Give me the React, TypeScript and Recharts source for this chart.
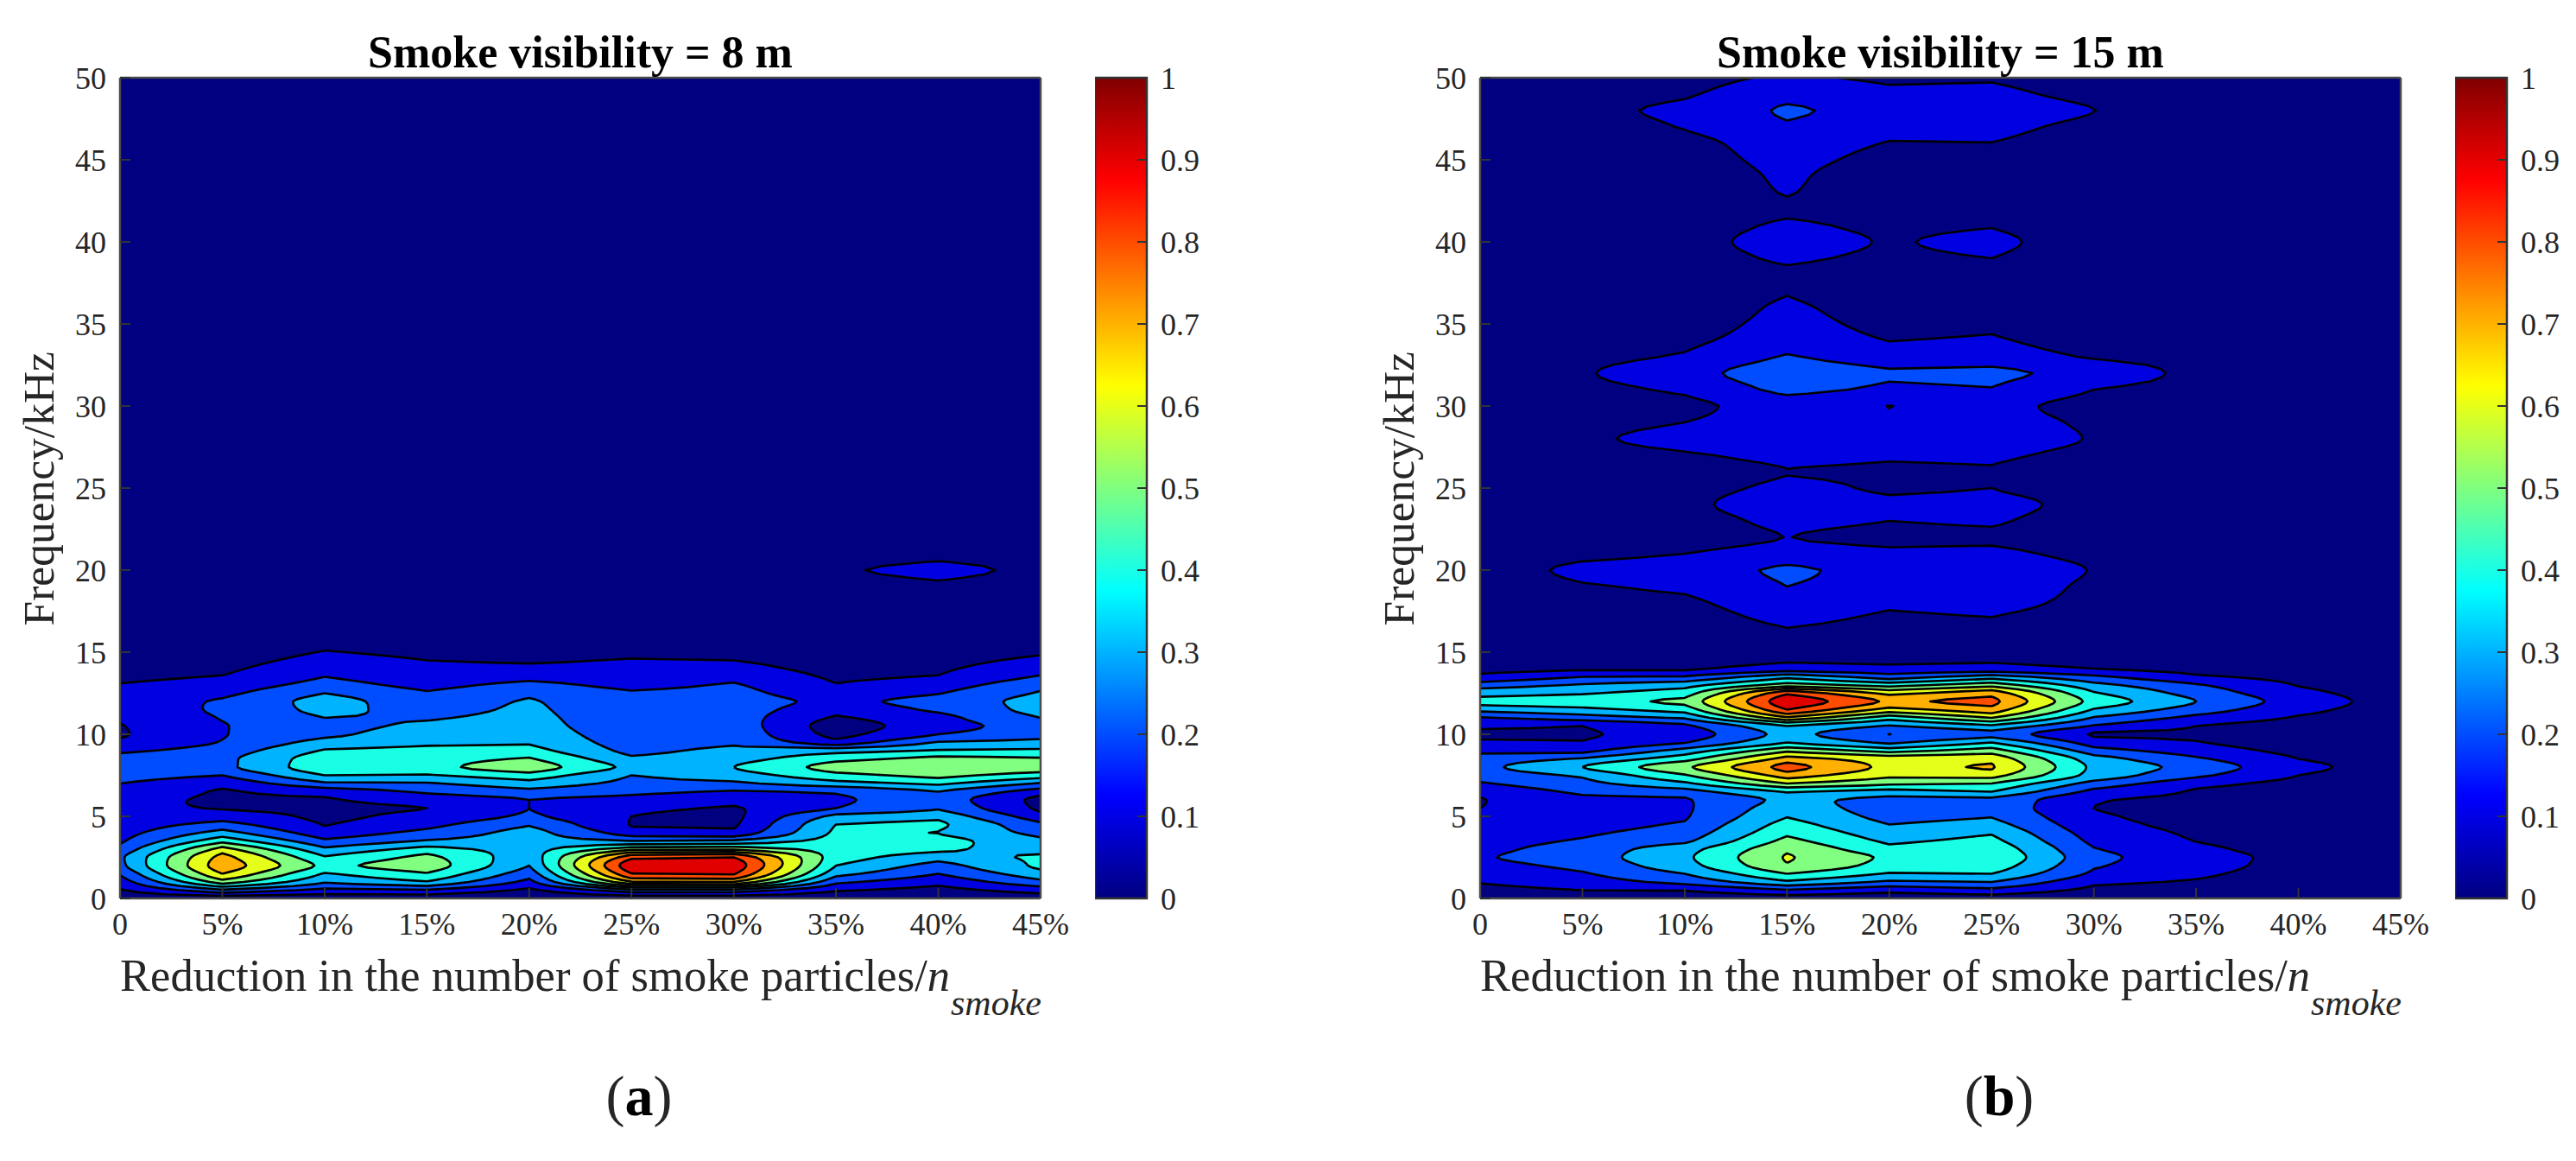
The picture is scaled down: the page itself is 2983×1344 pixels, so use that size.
/**
 * Filled contour maps of normalised power against smoke particle reduction and frequency.
 */

import { Bar, BarChart, Scatter, ScatterChart, XAxis, YAxis } from 'recharts';

const FONT = '"Liberation Serif", serif';
const TEXT = '#262626';
const FRAME = '#4a4a4a';

const reductions = [0, 5, 10, 15, 20, 25, 30, 35, 40, 45];
const xTicks = [0, 5, 10, 15, 20, 25, 30, 35, 40, 45];
const yTicks = [0, 5, 10, 15, 20, 25, 30, 35, 40, 45, 50];
const colorTicks = [0, 0.1, 0.2, 0.3, 0.4, 0.5, 0.6, 0.7, 0.8, 0.9, 1];
const levels = [0, 0.1, 0.2, 0.3, 0.4, 0.5, 0.6, 0.7, 0.8, 0.9];
const bandColors = ['#000080', '#0000e0', '#004dff', '#00b3ff', '#19ffe6', '#80ff80', '#e6ff1a', '#ffb000', '#ff4d00', '#e00000'];

const freqLow = [0, 0.5, 1, 1.5, 2, 2.5, 3, 3.5, 4, 4.5, 5, 5.5, 6, 6.5, 7, 7.5, 8, 8.5, 9, 9.5, 10, 10.5, 11, 11.5, 12, 12.5, 13, 13.5, 14, 14.5, 15];
const freqHighA = [16, 18, 19, 20, 21, 22, 30, 50];
const freqHighB = [16, 17, 18, 19, 20, 21, 22, 23, 24, 25, 26, 27, 28, 29, 30, 31, 32, 33, 34, 35, 36, 37, 38, 39, 40, 41, 42, 43, 44, 45, 46, 47, 48, 49, 50];

// smoke visibility 8 m, one list per reduction column
const a0 = [.03, .09, .15, .21, .27, .28, .23, .185, .16, .14, .125, .12, .13, .16, .2, .24, .26, .24, .18, .12, .09, .095, .115, .135, .145, .13, .105, .08, .06, .05, .04, .03, .02, .02, .02, .02, .02, .02, .02];
const a5 = [.02, .28, .55, .7, .77, .74, .64, .47, .34, .24, .15, .095, .085, .09, .13, .2, .27, .27, .24, .205, .195, .195, .205, .215, .21, .175, .14, .105, .08, .06, .045, .03, .02, .02, .02, .02, .02, .02, .02];
const a10 = [.02, .17, .31, .39, .47, .41, .32, .22, .14, .095, .08, .08, .09, .14, .28, .4, .47, .46, .41, .34, .28, .27, .3, .33, .34, .3, .24, .2, .17, .135, .105, .06, .03, .02, .02, .02, .02, .02, .02];
const a15 = [.02, .19, .39, .49, .56, .53, .44, .31, .23, .17, .125, .1, .145, .215, .29, .39, .47, .46, .43, .38, .35, .32, .29, .26, .24, .21, .17, .145, .12, .1, .08, .05, .03, .02, .02, .02, .02, .02, .02];
const a20 = [.02, .08, .17, .24, .3, .33, .35, .35, .34, .29, .22, .2, .2, .27, .36, .46, .56, .51, .44, .39, .36, .34, .33, .32, .31, .28, .23, .17, .12, .09, .07, .04, .03, .02, .02, .02, .02, .02, .02];
const a25 = [.02, .27, .69, .895, .98, .87, .57, .3, .15, .095, .1, .12, .17, .22, .27, .3, .37, .32, .27, .25, .24, .235, .23, .225, .22, .21, .17, .15, .12, .105, .08, .05, .03, .02, .02, .02, .02, .02, .02];
const a30 = [.02, .27, .7, .91, .97, .9, .58, .32, .13, .085, .075, .09, .14, .19, .28, .35, .4, .36, .33, .285, .27, .26, .25, .245, .24, .23, .21, .17, .13, .1, .07, .05, .03, .03, .05, .03, .02, .02, .02];
const a35 = [.03, .11, .22, .33, .4, .44, .45, .44, .42, .4, .33, .2, .185, .21, .36, .47, .54, .47, .36, .14, .065, .045, .085, .14, .175, .14, .105, .085, .07, .06, .05, .04, .03, .05, .09, .05, .03, .02, .02];
const a40 = [.04, .07, .13, .2, .26, .34, .42, .44, .398, .42, .37, .29, .26, .3, .42, .53, .58, .53, .41, .31, .2, .16, .17, .215, .23, .195, .15, .105, .085, .07, .055, .04, .04, .08, .125, .07, .03, .02, .02];
const a45 = [.04, .14, .27, .36, .42, .42, .35, .32, .27, .22, .14, .08, .07, .15, .29, .45, .55, .51, .42, .33, .27, .25, .3, .335, .34, .31, .27, .21, .16, .12, .09, .05, .03, .05, .08, .05, .03, .02, .02];

// smoke visibility 15 m, low frequency part
const b0 = [.04, .07, .105, .13, .165, .19, .175, .16, .145, .13, .115, .1, .095, .13, .19, .24, .27, .24, .175, .115, .085, .115, .19, .33, .43, .36, .25, .125, .07, .05, .04];
const b5 = [.04, .1, .15, .19, .225, .25, .24, .21, .185, .165, .155, .155, .175, .22, .27, .315, .4, .31, .17, .105, .09, .1, .25, .37, .46, .39, .31, .2, .085, .05, .04];
const b10 = [.04, .105, .23, .3, .36, .38, .36, .28, .24, .21, .19, .185, .19, .26, .38, .49, .58, .46, .34, .195, .14, .18, .31, .44, .52, .45, .36, .21, .085, .06, .05];
const b15 = [.04, .19, .38, .5, .59, .61, .58, .53, .48, .44, .395, .36, .33, .41, .6, .75, .84, .74, .58, .4, .34, .4, .68, .9, .98, .88, .55, .37, .15, .09, .07];
const b20 = [.04, .13, .28, .39, .46, .48, .43, .38, .34, .3, .265, .25, .27, .36, .52, .62, .67, .65, .46, .28, .199, .29, .44, .66, .78, .67, .46, .25, .13, .08, .06];
const b25 = [.04, .17, .3, .4, .46, .49, .47, .43, .39, .34, .295, .27, .28, .4, .5, .64, .71, .67, .55, .4, .27, .38, .6, .76, .83, .76, .56, .35, .14, .09, .07];
const b30 = [.03, .075, .12, .18, .21, .225, .205, .175, .15, .125, .11, .1, .105, .17, .26, .36, .375, .34, .24, .15, .09, .19, .29, .39, .46, .41, .33, .22, .1, .07, .05];
const b35 = [.03, .05, .09, .115, .13, .135, .12, .098, .085, .075, .07, .07, .08, .09, .13, .22, .262, .215, .15, .105, .085, .1, .17, .25, .3, .26, .21, .115, .07, .05, .04];
const b40 = [.02, .03, .05, .06, .07, .072, .06, .05, .04, .04, .04, .04, .04, .05, .07, .1, .12, .1, .07, .05, .05, .06, .09, .125, .15, .125, .095, .07, .05, .04, .03];
const b45 = [.02, .02, .03, .03, .04, .04, .03, .03, .03, .03, .03, .03, .03, .03, .04, .05, .06, .05, .04, .03, .03, .03, .04, .05, .055, .05, .04, .03, .03, .02, .02];

// smoke visibility 15 m, 16 to 50 kHz
const bHigh0 = [.03, .03, .03, .03, .04, .03, .03, .03, .03, .03, .03, .03, .03, .03, .03, .03, .03, .03, .03, .03, .03, .03, .03, .03, .03, .03, .03, .03, .03, .03, .03, .03, .03, .03, .03];
const bHigh5 = [.03, .04, .06, .09, .128, .07, .05, .04, .04, .03, .03, .06, .085, .07, .05, .07, .09, .07, .05, .03, .03, .03, .03, .03, .04, .03, .03, .03, .03, .04, .04, .05, .075, .05, .04];
const bHigh10 = [.05, .06, .08, .12, .16, .1, .07, .07, .08, .07, .06, .09, .13, .1, .08, .115, .165, .11, .08, .06, .05, .05, .05, .06, .07, .06, .05, .05, .05, .06, .07, .105, .12, .09, .07];
const bHigh15 = [.085, .12, .16, .2, .215, .14, .101, .12, .15, .12, .098, .125, .15, .14, .14, .23, .26, .21, .15, .13, .115, .095, .085, .115, .135, .115, .085, .105, .115, .13, .15, .185, .215, .16, .115];
const bHigh20 = [.07, .085, .115, .16, .17, .12, .08, .1, .115, .09, .09, .11, .14, .115, .099, .18, .21, .14, .098, .075, .06, .05, .05, .08, .093, .08, .06, .05, .05, .07, .095, .13, .16, .12, .085];
const bHigh25 = [.07, .095, .135, .16, .17, .125, .085, .11, .125, .1, .095, .115, .14, .125, .125, .195, .22, .15, .11, .085, .06, .05, .05, .1, .12, .095, .06, .05, .05, .06, .098, .13, .16, .125, .09];
const bHigh30 = [.04, .05, .07, .08, .095, .07, .05, .06, .075, .06, .05, .075, .095, .09, .07, .1, .17, .09, .06, .05, .04, .04, .04, .04, .053, .04, .03, .03, .03, .04, .05, .07, .101, .07, .05];
const bHigh35 = [.03, .03, .03, .04, .05, .04, .03, .03, .04, .03, .03, .04, .05, .05, .04, .06, .07, .06, .04, .03, .03, .03, .03, .03, .03, .03, .03, .03, .03, .03, .03, .04, .06, .04, .03];
const bHigh40 = [.02, .02, .02, .02, .03, .03, .02, .02, .02, .02, .02, .02, .03, .03, .03, .03, .04, .03, .03, .02, .02, .02, .02, .02, .02, .02, .02, .02, .02, .02, .02, .02, .02, .02, .02];
const bHigh45 = [.02, .02, .02, .02, .02, .02, .02, .02, .02, .02, .02, .02, .02, .02, .02, .02, .02, .02, .02, .02, .02, .02, .02, .02, .02, .02, .02, .02, .02, .02, .02, .02, .02, .02, .02];

const tableA = [a0, a5, a10, a15, a20, a25, a30, a35, a40, a45];
const tableB = [
  [...b0, ...bHigh0], [...b5, ...bHigh5], [...b10, ...bHigh10], [...b15, ...bHigh15], [...b20, ...bHigh20],
  [...b25, ...bHigh25], [...b30, ...bHigh30], [...b35, ...bHigh35], [...b40, ...bHigh40], [...b45, ...bHigh45],
];
const freqA = [...freqLow, ...freqHighA];
const freqB = [...freqLow, ...freqHighB];

const colorbarData = [{ name: 'scale', value: 1 }];
const frameAnchor = [{ x: 0, y: 0 }];
const jetStops: [number, string][] = [[0, '#000080'], [0.125, '#0000ff'], [0.375, '#00ffff'], [0.625, '#ffff00'], [0.875, '#ff0000'], [1, '#800000']];

// pchip slopes so the curve between rows stays inside the read values
function pchipSlopes(xs: number[], ys: number[]) {
  const h = xs.slice(1).map((x, i) => x - xs[i]);
  const d = h.map((w, i) => (ys[i + 1] - ys[i]) / w);
  return xs.map((_, i) => {
    if (i === 0) return d[0];
    if (i === xs.length - 1) return d[d.length - 1];
    if (d[i - 1] * d[i] <= 0) return 0;
    const w1 = 2 * h[i] + h[i - 1];
    const w2 = h[i] + 2 * h[i - 1];
    return (w1 + w2) / (w1 / d[i - 1] + w2 / d[i]);
  });
}

function refineRows(freq: number[], table: number[][], steps: number) {
  const ys: number[] = [];
  for (let j = 0; j < freq.length - 1; j++) {
    for (let s = 0; s < steps; s++) ys.push(freq[j] + ((freq[j + 1] - freq[j]) * s) / steps);
  }
  ys.push(freq[freq.length - 1]);
  const grid = table.map((col) => {
    const m = pchipSlopes(freq, col);
    const out: number[] = [];
    for (let j = 0; j < freq.length - 1; j++) {
      const w = freq[j + 1] - freq[j];
      for (let s = 0; s < steps; s++) {
        const t = s / steps;
        const t2 = t * t;
        const t3 = t2 * t;
        out.push((2 * t3 - 3 * t2 + 1) * col[j] + (t3 - 2 * t2 + t) * w * m[j] + (-2 * t3 + 3 * t2) * col[j + 1] + (t3 - t2) * w * m[j + 1]);
      }
    }
    out.push(col[col.length - 1]);
    return out;
  });
  return { ys, grid };
}

interface Pt { x: number; y: number }

// marching squares on a grid padded with a low rim, so every band closes along the plot border
function traceBand(xs: number[], ys: number[], grid: number[][], level: number) {
  const px = [xs[0], ...xs, xs[xs.length - 1]];
  const py = [ys[0], ...ys, ys[ys.length - 1]];
  const val = (i: number, j: number) => (i === 0 || j === 0 || i === px.length - 1 || j === py.length - 1 ? -1 : grid[i - 1][j - 1]);
  const verts = new Map<string, Pt>();
  const links = new Map<string, string[]>();
  const hEdge = (i: number, j: number) => {
    const k = `h${i},${j}`;
    if (!verts.has(k)) {
      const t = (level - val(i, j)) / (val(i + 1, j) - val(i, j));
      verts.set(k, { x: px[i] + t * (px[i + 1] - px[i]), y: py[j] });
    }
    return k;
  };
  const vEdge = (i: number, j: number) => {
    const k = `v${i},${j}`;
    if (!verts.has(k)) {
      const t = (level - val(i, j)) / (val(i, j + 1) - val(i, j));
      verts.set(k, { x: px[i], y: py[j] + t * (py[j + 1] - py[j]) });
    }
    return k;
  };
  const link = (a: string, b: string) => {
    links.set(a, [...(links.get(a) ?? []), b]);
    links.set(b, [...(links.get(b) ?? []), a]);
  };
  for (let i = 0; i < px.length - 1; i++) {
    for (let j = 0; j < py.length - 1; j++) {
      const a = val(i, j) >= level;
      const b = val(i + 1, j) >= level;
      const c = val(i + 1, j + 1) >= level;
      const d = val(i, j + 1) >= level;
      const bottom = a !== b ? hEdge(i, j) : '';
      const right = b !== c ? vEdge(i + 1, j) : '';
      const top = c !== d ? hEdge(i, j + 1) : '';
      const left = a !== d ? vEdge(i, j) : '';
      const cut = [bottom, right, top, left].filter(Boolean);
      if (cut.length === 2) link(cut[0], cut[1]);
      if (cut.length === 4) {
        const mid = (val(i, j) + val(i + 1, j) + val(i + 1, j + 1) + val(i, j + 1)) / 4 >= level;
        if (mid === a) {
          link(bottom, right);
          link(top, left);
        } else {
          link(left, bottom);
          link(right, top);
        }
      }
    }
  }
  const points: Pt[] = [];
  const ringSizes: number[] = [];
  const seen = new Set<string>();
  for (const start of links.keys()) {
    if (seen.has(start)) continue;
    let prev = '';
    let cur = start;
    let size = 0;
    while (!seen.has(cur)) {
      seen.add(cur);
      points.push(verts.get(cur) as Pt);
      size++;
      const [n1, n2] = links.get(cur) as string[];
      const next: string = n1 !== prev ? n1 : n2;
      prev = cur;
      cur = next;
    }
    ringSizes.push(size);
  }
  return { points, ringSizes };
}

function bandShape(points: Pt[], ringSizes: number[], color: string, xMax: number, yMax: number) {
  const onBorder = (a: Pt, b: Pt) =>
    (a.x === 0 && b.x === 0) || (a.x === xMax && b.x === xMax) || (a.y === 0 && b.y === 0) || (a.y === yMax && b.y === yMax);
  return (props: any) => {
    const pix: { x: number; y: number }[] = props.points;
    let fillPath = '';
    let linePath = '';
    let offset = 0;
    ringSizes.forEach((size) => {
      let pen = false;
      for (let n = 0; n <= size; n++) {
        const idx = offset + (n % size);
        const p = pix[idx];
        if (n < size) fillPath += `${n === 0 ? 'M' : 'L'}${p.x.toFixed(2)},${p.y.toFixed(2)}`;
        if (n > 0) {
          const prevIdx = offset + n - 1;
          if (onBorder(points[prevIdx], points[idx])) {
            pen = false;
          } else {
            if (!pen) linePath += `M${pix[prevIdx].x.toFixed(2)},${pix[prevIdx].y.toFixed(2)}`;
            linePath += `L${p.x.toFixed(2)},${p.y.toFixed(2)}`;
            pen = true;
          }
        }
      }
      fillPath += 'Z';
      offset += size;
    });
    return (
      <g key={color}>
        <path d={fillPath} fill={color} fillRule="evenodd" stroke="none" />
        <path d={linePath} fill="none" stroke="#000" strokeWidth={2.6} strokeLinejoin="round" />
      </g>
    );
  };
}

const tickStyle = { fontFamily: FONT, fontSize: 36, fill: TEXT };
const tickLine = { stroke: '#333', strokeWidth: 2 };
const axisLine = { stroke: FRAME, strokeWidth: 2.5 };
const panelMargin = { top: 90, right: 55, bottom: 80, left: 139 };
const overlayStyle = { position: 'absolute' as const, left: 0, top: 0 };

function ContourPanel({ freq, table }: { freq: number[]; table: number[][] }) {
  const { ys, grid } = refineRows(freq, table, 4);
  const bands = levels.map((level, i) => ({ ...traceBand(reductions, ys, grid, level), color: bandColors[i] }));
  return (
    <>
      <div style={overlayStyle}>
        <ScatterChart width={1260} height={1120} margin={panelMargin}>
          <XAxis hide type="number" dataKey="x" domain={[0, 45]} />
          <YAxis hide type="number" dataKey="y" domain={[0, 50]} />
          {bands.map((band) => (
            <Scatter key={band.color} data={band.points} isAnimationActive={false} shape={() => <g />}
              line={bandShape(band.points, band.ringSizes, band.color, 45, 50)} />
          ))}
        </ScatterChart>
      </div>
      {/* frame and ticks sit in a second chart on top of the filled bands */}
      <div style={overlayStyle}>
        <ScatterChart width={1260} height={1120} margin={{ top: 89, right: 54, bottom: 0, left: 79 }}>
          <XAxis type="number" dataKey="x" domain={[0, 45]} ticks={xTicks} height={80} tickSize={-12} tickMargin={28}
            interval={0} tick={tickStyle} tickLine={tickLine} axisLine={axisLine} tickFormatter={(v: number) => (v === 0 ? '0' : `${v}%`)} />
          <XAxis xAxisId="top" orientation="top" type="number" dataKey="x" domain={[0, 45]} ticks={xTicks} height={1} tickSize={-12}
            interval={0} tick={false} tickLine={tickLine} axisLine={axisLine} />
          <YAxis type="number" dataKey="y" domain={[0, 50]} ticks={yTicks} width={60} tickSize={-12} tickMargin={28}
            interval={0} tick={tickStyle} tickLine={tickLine} axisLine={axisLine} />
          <YAxis yAxisId="right" orientation="right" type="number" dataKey="y" domain={[0, 50]} ticks={yTicks} width={1} tickSize={-12}
            interval={0} tick={false} tickLine={tickLine} axisLine={axisLine} />
          <Scatter data={frameAnchor} isAnimationActive={false} shape={() => <g />} />
          <Scatter data={frameAnchor} xAxisId="top" yAxisId="right" isAnimationActive={false} shape={() => <g />} />
        </ScatterChart>
      </div>
    </>
  );
}

function Colorbar({ gradientId }: { gradientId: string }) {
  return (
    <>
      <div style={overlayStyle}>
        <BarChart width={130} height={1100} data={colorbarData} barCategoryGap={0} margin={{ top: 90, right: 70, bottom: 60, left: 0 }}>
          <defs>
            <linearGradient id={gradientId} x1="0" y1="1" x2="0" y2="0">
              {jetStops.map(([stop, color]) => <stop key={stop} offset={stop} stopColor={color} />)}
            </linearGradient>
          </defs>
          <XAxis dataKey="name" hide />
          <YAxis hide type="number" domain={[0, 1]} />
          <Bar dataKey="value" fill={`url(#${gradientId})`} stroke="#333" strokeWidth={2.5} isAnimationActive={false} />
        </BarChart>
      </div>
      <div style={overlayStyle}>
        <BarChart width={130} height={1100} data={colorbarData} margin={{ top: 90, right: 69, bottom: 60, left: 0 }}>
          <XAxis dataKey="name" hide />
          <YAxis orientation="right" type="number" domain={[0, 1]} ticks={colorTicks} width={1} tickSize={-11} tickMargin={27}
            interval={0} tick={{ ...tickStyle, textAnchor: 'start' }} tickLine={tickLine} axisLine={false} />
          <Bar dataKey="value" fill="none" isAnimationActive={false} />
        </BarChart>
      </div>
    </>
  );
}

function Caption({ left, top, width, size, bold, children, align = 'center' }: any) {
  return (
    <div style={{ position: 'absolute', left, top, width, fontFamily: FONT, fontSize: size, lineHeight: 1, color: bold ? '#000' : TEXT, fontWeight: bold ? 700 : 400, textAlign: align, whiteSpace: 'nowrap' }}>
      {children}
    </div>
  );
}

function AxisTitles({ left }: { left: number }) {
  return (
    <>
      <Caption left={left} top={1103} width={1000} size={52.6} align="left">
        Reduction in the number of smoke particles/<i>n</i>
      </Caption>
      <Caption left={left + 962} top={1140} width={120} size={42} align="left">
        <i>smoke</i>
      </Caption>
      <div style={{ position: 'absolute', left: left - 144 - 150, top: 540, width: 400, fontFamily: FONT, fontSize: 51.5, lineHeight: 1, color: TEXT, textAlign: 'center', transform: 'rotate(-90deg)' }}>
        Frequency/kHz
      </div>
    </>
  );
}

export default function App() {
  return (
    <div style={{ position: 'absolute', left: 0, top: 0, width: 2983, height: 1344, background: '#fff', overflow: 'hidden' }}>
      <div style={{ position: 'absolute', left: 0, top: 0 }}><ContourPanel freq={freqA} table={tableA} /></div>
      <div style={{ position: 'absolute', left: 1575, top: 0 }}><ContourPanel freq={freqB} table={tableB} /></div>
      <div style={{ position: 'absolute', left: 1268, top: 0 }}><Colorbar gradientId="jetA" /></div>
      <div style={{ position: 'absolute', left: 2843, top: 0 }}><Colorbar gradientId="jetB" /></div>
      <Caption left={139} top={35} width={1066} size={52} bold>Smoke visibility = 8 m</Caption>
      <Caption left={1714} top={35} width={1066} size={52} bold>Smoke visibility = 15 m</Caption>
      <AxisTitles left={139} />
      <AxisTitles left={1714} />
      <Caption left={640} top={1236} width={200} size={66}>(<b style={{ color: '#000' }}>a</b>)</Caption>
      <Caption left={2215} top={1236} width={200} size={66}>(<b style={{ color: '#000' }}>b</b>)</Caption>
    </div>
  );
}
